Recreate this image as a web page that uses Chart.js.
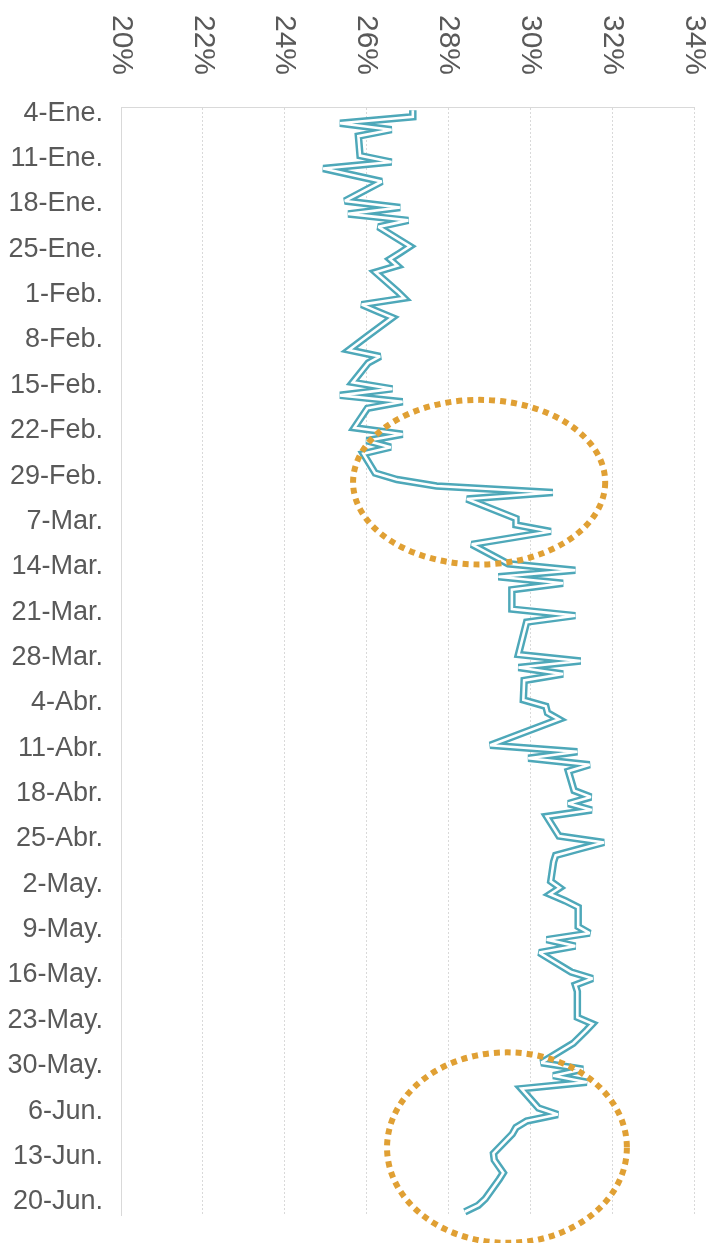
<!DOCTYPE html>
<html>
<head>
<meta charset="utf-8">
<script src="https://cdn.jsdelivr.net/npm/chart.js@4/dist/chart.umd.min.js"></script>
<style>
html,body{margin:0;padding:0;background:#ffffff;}
#wrap{width:719px;height:1243px;position:relative;}
</style>
</head>
<body>
<div id="wrap"><canvas id="c"></canvas></div>
<script>
// Weekly tick labels (one per Monday), first category = 4-Ene.
const tickLabels = ['4-Ene.','11-Ene.','18-Ene.','25-Ene.','1-Feb.','8-Feb.','15-Feb.','22-Feb.','29-Feb.','7-Mar.','14-Mar.','21-Mar.','28-Mar.','4-Abr.','11-Abr.','18-Abr.','25-Abr.','2-May.','9-May.','16-May.','23-May.','30-May.','6-Jun.','13-Jun.','20-Jun.'];
const totalDays = 171;          // 4-Ene. .. 22-Jun. (daily date axis)
const valueTicks = [20,22,24,26,28,30,32,34];

// Weekday values (Mon..Fri of each week), in %
const weekdayValues = [
  27.13, 27.13, 25.35, 26.61, 25.80,  // 4-Ene.
  25.84, 26.61, 24.94, 25.65, 26.37,  // 11-Ene.
  25.47, 26.82, 25.55, 27.02, 26.29,  // 18-Ene.
  27.06, 26.82, 26.57, 26.75, 26.22,  // 25-Ene.
  26.76, 26.92, 25.88, 26.25, 26.63,  // 1-Feb.
  25.99, 25.78, 25.57, 26.33, 26.04,  // 8-Feb.
  25.66, 26.63, 25.35, 26.88, 26.02,  // 15-Feb.
  25.70, 26.88, 26.00, 26.59, 25.92,  // 22-Feb.
  26.21, 26.74, 27.71, 30.55, 28.45,  // 29-Feb.
  29.65, 29.65, 30.50, 29.54, 28.57,  // 7-Mar.
  29.46, 31.10, 29.22, 30.80, 29.55,  // 14-Mar.
  29.55, 31.10, 29.91, 29.87, 29.83,  // 21-Mar.
  29.71, 31.23, 29.71, 30.80, 29.85,  // 28-Mar.
  29.83, 30.38, 30.42, 30.70, 30.28,  // 4-Abr.
  29.02, 31.15, 29.95, 31.45, 30.93,  // 11-Abr.
  31.07, 31.48, 30.93, 31.50, 30.40,  // 18-Abr.
  30.70, 31.80, 31.20, 30.62, 30.57,  // 25-Abr.
  30.50, 30.72, 30.48, 30.85, 31.17,  // 2-May.
  31.17, 31.45, 30.40, 31.10, 30.22,  // 9-May.
  31.00, 31.52, 31.10, 31.15, 31.15,  // 16-May.
  31.15, 31.52, 31.37, 31.21, 31.05,  // 23-May.
  30.27, 31.29, 30.56, 31.38, 29.78,  // 30-May.
  30.20, 30.67, 29.91, 29.65, 29.56,  // 6-Jun.
  29.10, 29.12, 29.23, 29.34, 29.24,  // 13-Jun.
  28.90, 28.73, 28.40                 // 20-Jun.
];

// Highlight ellipses (annotation), in data units: [value %, day index]
const ellipseCenters = [[28.75, 57.4], [29.43, 160.1]];
const ellipseRadii   = [[3.08, 12.7], [2.93, 14.7]];

// Build daily categories with weekend gaps
const categories = [];
const series = [];
let k = 0;
for (let d = 0; d < totalDays; d++) {
  categories.push(d % 7 === 0 ? tickLabels[d / 7] : '');
  if (d % 7 < 5 && k < weekdayValues.length) { series.push(weekdayValues[k++]); }
  else { series.push(null); }
}

const FONT = '"Liberation Sans", Arial, sans-serif';
const TEAL = '#4EA8B9';

const overlay = {
  id: 'overlay',
  beforeDatasetsDraw(chart) { chart.ctx.miterLimit = 2.5; },
  afterDraw(chart) {
    const {ctx, scales: {x, y}} = chart;
    ctx.save();
    ctx.fillStyle = '#595959';
    ctx.font = '30px ' + FONT;
    ctx.textAlign = 'left';
    ctx.textBaseline = 'middle';
    valueTicks.forEach(v => {
      const px = x.getPixelForValue(v);
      ctx.save();
      ctx.translate(px, 15);
      ctx.rotate(Math.PI / 2);
      ctx.fillText(v + '%', 0, 0);
      ctx.restore();
    });
    ctx.strokeStyle = '#E0A034';
    ctx.lineWidth = 6;
    ctx.setLineDash([6, 5]);
    ellipseCenters.forEach((c, i) => {
      const cx = x.getPixelForValue(c[0]);
      const cy = y.getPixelForValue(c[1]);
      const rx = x.getPixelForValue(c[0] + ellipseRadii[i][0]) - cx;
      const ry = y.getPixelForValue(c[1] + ellipseRadii[i][1]) - cy;
      ctx.beginPath();
      ctx.ellipse(cx, cy, rx, ry, 0, 0, Math.PI * 2);
      ctx.stroke();
    });
    ctx.restore();
  }
};

new Chart(document.getElementById('c'), {
  type: 'line',
  data: {
    labels: categories,
    datasets: [
      { data: series, order: 2, borderColor: TEAL, borderWidth: 7.5, pointRadius: 0, tension: 0, spanGaps: true, borderJoinStyle: 'miter', fill: false },
      { data: series, order: 1, borderColor: '#ffffff', borderWidth: 2.6, pointRadius: 0, tension: 0, spanGaps: true, borderJoinStyle: 'miter', fill: false }
    ]
  },
  options: {
    indexAxis: 'y',
    responsive: true,
    maintainAspectRatio: false,
    animation: false,
    devicePixelRatio: 1,
    layout: { padding: { top: 0, right: 25, bottom: 28, left: 0 } },
    plugins: { legend: { display: false }, tooltip: { enabled: false } },
    scales: {
      x: {
        type: 'linear',
        position: 'top',
        min: 20, max: 34,
        ticks: { display: false, stepSize: 2 },
        grid: { color: '#d9d9d9', lineWidth: 1, drawTicks: false },
        border: { display: true, color: '#d9d9d9', width: 1, dash: [2, 2] },
        afterFit(s) { s.height = 107; s.paddingLeft = 0; s.paddingRight = 0; }
      },
      y: {
        type: 'category',
        offset: true,
        ticks: {
          autoSkip: false,
          padding: 18,
          labelOffset: 3,
          color: '#595959',
          font: { family: FONT, size: 27 },
          callback(v, i) { return categories[i]; }
        },
        grid: { display: false, drawTicks: false },
        border: { display: true, color: '#d9d9d9', width: 1 },
        afterFit(s) { s.width = 121; s.paddingTop = 0; s.paddingBottom = 0; }
      }
    }
  },
  plugins: [overlay]
});
</script>
</body>
</html>
